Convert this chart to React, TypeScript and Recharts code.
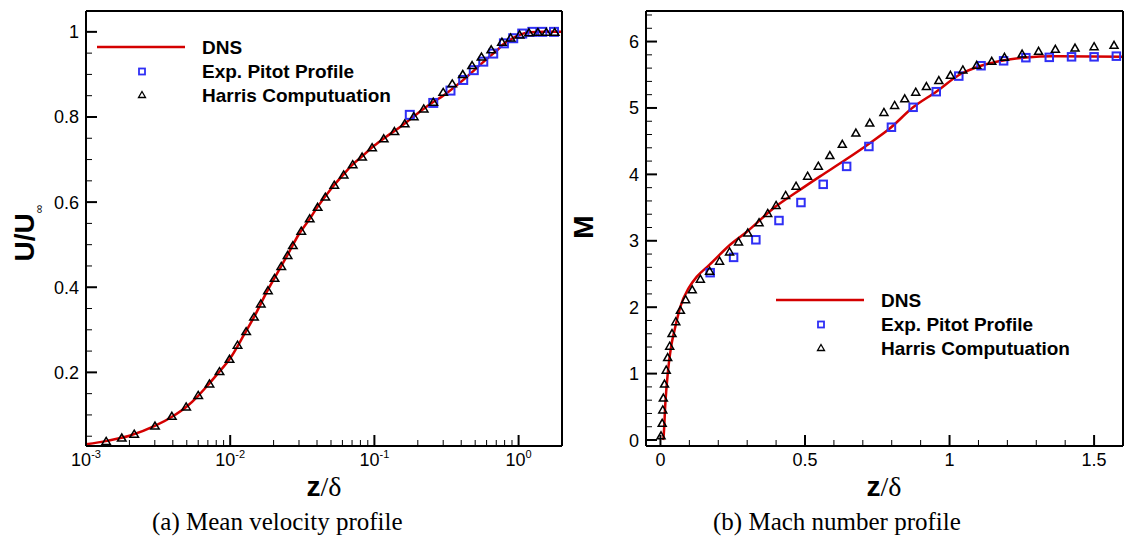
import React from "react";
import { ComposedChart, Line, Scatter, XAxis, YAxis, Legend } from "recharts";

// (a) mean velocity profile, z/delta on a log axis
const velDnsZ = [0.001, 0.0014, 0.002, 0.003, 0.004, 0.005, 0.006, 0.007, 0.008, 0.01, 0.0125, 0.015, 0.0175, 0.02, 0.025, 0.03, 0.035, 0.04, 0.05, 0.06, 0.07, 0.08, 0.1, 0.12, 0.15, 0.2, 0.25, 0.3, 0.4, 0.5, 0.6, 0.7, 0.8, 0.9, 1.0, 1.2, 1.5, 2.0];
const velDnsU = [0.031, 0.039, 0.051, 0.074, 0.097, 0.12, 0.145, 0.17, 0.193, 0.233, 0.289, 0.337, 0.382, 0.418, 0.476, 0.525, 0.557, 0.587, 0.631, 0.662, 0.687, 0.704, 0.733, 0.753, 0.776, 0.809, 0.833, 0.85, 0.883, 0.912, 0.936, 0.955, 0.973, 0.984, 0.992, 0.999, 1.0, 1.0];

const velPitotZ = [0.176, 0.256, 0.337, 0.413, 0.489, 0.569, 0.667, 0.791, 0.918, 1.06, 1.245, 1.46, 1.76];
const velPitotU = [0.805, 0.833, 0.862, 0.887, 0.91, 0.93, 0.949, 0.973, 0.985, 0.996, 1.0, 1.0, 1.0];

const velHarrisZ = [0.00138, 0.00177, 0.00216, 0.00301, 0.00394, 0.00495, 0.006, 0.00718, 0.00843, 0.00989, 0.01124, 0.0129, 0.01462, 0.0163, 0.01827, 0.0203, 0.0226, 0.025, 0.0272, 0.0311, 0.0356, 0.0404, 0.0457, 0.0527, 0.0612, 0.0707, 0.0822, 0.0964, 0.1161, 0.1377, 0.1623, 0.1875, 0.2198, 0.256, 0.3, 0.3467, 0.41, 0.476, 0.553, 0.646, 0.766, 0.88, 1.016, 1.18, 1.36, 1.556, 1.78];
const velHarrisU = [0.039, 0.047, 0.056, 0.075, 0.098, 0.12, 0.147, 0.174, 0.203, 0.232, 0.265, 0.297, 0.331, 0.362, 0.393, 0.422, 0.45, 0.476, 0.499, 0.533, 0.562, 0.589, 0.613, 0.641, 0.665, 0.689, 0.707, 0.729, 0.75, 0.767, 0.785, 0.802, 0.82, 0.836, 0.859, 0.879, 0.901, 0.922, 0.942, 0.959, 0.977, 0.987, 0.994, 0.999, 1.0, 1.0, 1.0];

// (b) Mach number profile
const machDnsZ = [0.009, 0.011, 0.017, 0.0265, 0.037, 0.049, 0.069, 0.098, 0.126, 0.17, 0.241, 0.3, 0.391, 0.47, 0.552, 0.64, 0.724, 0.793, 0.874, 0.954, 1.034, 1.109, 1.19, 1.264, 1.356, 1.6];
const machDnsM = [0.0, 0.06, 0.56, 1.06, 1.41, 1.66, 2.01, 2.29, 2.46, 2.64, 2.94, 3.14, 3.49, 3.73, 3.97, 4.22, 4.47, 4.69, 5.01, 5.245, 5.5, 5.636, 5.72, 5.76, 5.78, 5.77];

const machPitotZ = [0.172, 0.253, 0.33, 0.41, 0.486, 0.563, 0.644, 0.721, 0.799, 0.874, 0.954, 1.032, 1.109, 1.187, 1.264, 1.345, 1.422, 1.5, 1.577];
const machPitotM = [2.52, 2.75, 3.015, 3.305, 3.576, 3.85, 4.12, 4.42, 4.71, 5.01, 5.245, 5.48, 5.636, 5.71, 5.757, 5.762, 5.77, 5.77, 5.78];

const machHarrisZ = [0.002, 0.006, 0.008, 0.01, 0.014, 0.02, 0.025, 0.032, 0.04, 0.053, 0.069, 0.087, 0.11, 0.138, 0.17, 0.2045, 0.239, 0.27, 0.302, 0.341, 0.371, 0.4, 0.433, 0.469, 0.509, 0.546, 0.586, 0.629, 0.676, 0.724, 0.773, 0.81, 0.845, 0.883, 0.92, 0.963, 1.003, 1.046, 1.094, 1.146, 1.19, 1.251, 1.308, 1.366, 1.434, 1.5, 1.569];
const machHarrisM = [0.07, 0.26, 0.46, 0.64, 0.85, 1.06, 1.25, 1.42, 1.61, 1.79, 1.96, 2.12, 2.27, 2.43, 2.55, 2.7, 2.84, 2.99, 3.125, 3.28, 3.42, 3.54, 3.69, 3.83, 3.98, 4.13, 4.29, 4.46, 4.63, 4.78, 4.94, 5.045, 5.146, 5.245, 5.33, 5.42, 5.5, 5.58, 5.65, 5.71, 5.77, 5.82, 5.86, 5.89, 5.91, 5.93, 5.95];

// ticks
const velXMajor = [0.001, 0.01, 0.1, 1];
const velXExp = ["-3", "-2", "-1", "0"];
const velXMinor = [0.002, 0.003, 0.004, 0.005, 0.006, 0.007, 0.008, 0.009, 0.02, 0.03, 0.04, 0.05, 0.06, 0.07, 0.08, 0.09, 0.2, 0.3, 0.4, 0.5, 0.6, 0.7, 0.8, 0.9];
const velYMajor = [0.2, 0.4, 0.6, 0.8, 1];
const velYLabels = ["0.2", "0.4", "0.6", "0.8", "1"];
const velYMinor = [0.05, 0.1, 0.15, 0.25, 0.3, 0.35, 0.45, 0.5, 0.55, 0.65, 0.7, 0.75, 0.85, 0.9, 0.95];

const machXMajor = [0, 0.5, 1, 1.5];
const machXLabels = ["0", "0.5", "1", "1.5"];
const machXMinor = [0.1, 0.2, 0.3, 0.4, 0.6, 0.7, 0.8, 0.9, 1.1, 1.2, 1.3, 1.4];
const machYMajor = [0, 1, 2, 3, 4, 5, 6];
const machYLabels = ["0", "1", "2", "3", "4", "5", "6"];
const machYMinor = [0.2, 0.4, 0.6, 0.8, 1.2, 1.4, 1.6, 1.8, 2.2, 2.4, 2.6, 2.8, 3.2, 3.4, 3.6, 3.8, 4.2, 4.4, 4.6, 4.8, 5.2, 5.4, 5.6, 5.8, 6.2, 6.4];

const SANS = "'Liberation Sans', Arial, Helvetica, sans-serif";
const SERIF = "'Liberation Serif', 'Times New Roman', serif";
const RED = "#d40000";
const BLUE = "#2f2ff5";

const pts = (xs: number[], ys: number[]) => xs.map((x, i) => ({ x, y: ys[i] }));

const findMajor = (majors: number[], v: number) => majors.findIndex((m) => Math.abs(m - v) < 1e-9);

// inward ticks, labels outside
function bottomTick(majors: number[], labels: string[], power: boolean) {
  return (props: any) => {
    const { x, y, payload } = props;
    const i = findMajor(majors, payload.value);
    const major = i >= 0;
    return (
      <g>
        <line x1={x} x2={x} y1={y} y2={y - (major ? 11 : 6)} stroke="#000" strokeWidth={major ? 2 : 1} />
        {major && (
          <text x={x} y={y + 20} textAnchor="middle" fontFamily={SANS} fontSize={18} fill="#000">
            {power ? (
              <>
                10<tspan dy={-8} fontSize={11}>{labels[i]}</tspan>
              </>
            ) : (
              labels[i]
            )}
          </text>
        )}
      </g>
    );
  };
}

function leftTick(majors: number[], labels: string[]) {
  return (props: any) => {
    const { x, y, payload } = props;
    const i = findMajor(majors, payload.value);
    const major = i >= 0;
    return (
      <g>
        <line x1={x} x2={x + (major ? 11 : 6)} y1={y} y2={y} stroke="#000" strokeWidth={major ? 2 : 1} />
        {major && (
          <text x={x - 7} y={y} dy="0.36em" textAnchor="end" fontFamily={SANS} fontSize={18} fill="#000">
            {labels[i]}
          </text>
        )}
      </g>
    );
  };
}

const square = (size: number) => (props: any) => (
  <rect x={props.cx - size / 2} y={props.cy - size / 2} width={size} height={size} fill="none" stroke={BLUE} strokeWidth={2} />
);

const triangle = (w: number, h: number) => (props: any) => {
  const { cx, cy } = props;
  return (
    <path d={`M${cx},${cy - h / 2} L${cx + w / 2},${cy + h / 2} L${cx - w / 2},${cy + h / 2} Z`} fill="none" stroke="#000" strokeWidth={1.5} />
  );
};

function LegendBox() {
  const rows = [12, 36.5, 60];
  return (
    <svg width={320} height={74} style={{ display: "block" }}>
      <line x1={0} x2={88} y1={rows[0]} y2={rows[0]} stroke={RED} strokeWidth={2.5} />
      <rect x={42} y={rows[1] - 3} width={6} height={6} fill="none" stroke={BLUE} strokeWidth={1.8} />
      <path d={`M45,${rows[2] - 3.5} L48.5,${rows[2] + 2.5} L41.5,${rows[2] + 2.5} Z`} fill="none" stroke="#000" strokeWidth={1.3} />
      {["DNS", "Exp. Pitot Profile", "Harris Computuation"].map((t, i) => (
        <text key={t} x={105} y={rows[i]} dy="0.36em" fontFamily={SANS} fontWeight="bold" fontSize={19} fill="#000">
          {t}
        </text>
      ))}
    </svg>
  );
}

const frame = { stroke: "#000", strokeWidth: 2 };

export default function App() {
  const velDns = pts(velDnsZ, velDnsU);
  const velPitot = pts(velPitotZ, velPitotU);
  const velHarris = pts(velHarrisZ, velHarrisU);
  const machDns = pts(machDnsZ, machDnsM);
  const machPitot = pts(machPitotZ, machPitotM);
  const machHarris = pts(machHarrisZ, machHarrisM);

  return (
    <div style={{ position: "absolute", left: 0, top: 0, width: 1126, height: 538, background: "#fff" }}>
      <div style={{ position: "absolute", left: 0, top: 0 }}>
        <ComposedChart width={570} height={538} margin={{ top: 10, right: 7, bottom: 91, left: 85 }}>
          <XAxis
            dataKey="x"
            type="number"
            scale="log"
            domain={[0.001, 2]}
            allowDataOverflow
            ticks={[...velXMajor, ...velXMinor]}
            interval={0}
            height={1}
            tickSize={0}
            tickMargin={0}
            tickLine={false}
            axisLine={frame}
            tick={bottomTick(velXMajor, velXExp, true)}
          />
          <YAxis
            dataKey="y"
            type="number"
            domain={[0.027, 1.049]}
            allowDataOverflow
            ticks={[...velYMajor, ...velYMinor]}
            interval={0}
            width={1}
            tickSize={0}
            tickMargin={0}
            tickLine={false}
            axisLine={frame}
            tick={leftTick(velYMajor, velYLabels)}
          />
          <XAxis xAxisId="top" orientation="top" type="number" domain={[0, 1]} height={1} tick={false} tickLine={false} axisLine={frame} />
          <YAxis yAxisId="right" orientation="right" type="number" domain={[0, 1]} width={1} tick={false} tickLine={false} axisLine={frame} />
          <Line data={velDns} dataKey="y" type="monotone" stroke={RED} strokeWidth={2.5} dot={false} activeDot={false} isAnimationActive={false} />
          <Scatter data={velPitot} dataKey="y" shape={square(8)} isAnimationActive={false} />
          <Scatter data={velHarris} dataKey="y" shape={triangle(8.5, 7)} isAnimationActive={false} />
          <Legend layout="vertical" align="center" verticalAlign="middle" wrapperStyle={{ left: 97, top: 35, width: 320 }} content={() => <LegendBox />} />
        </ComposedChart>
      </div>

      <div style={{ position: "absolute", left: 570, top: 0 }}>
        <ComposedChart width={556} height={538} margin={{ top: 10, right: 2, bottom: 91, left: 75 }}>
          <XAxis
            dataKey="x"
            type="number"
            domain={[-0.05, 1.6]}
            allowDataOverflow
            ticks={[...machXMajor, ...machXMinor]}
            interval={0}
            height={1}
            tickSize={0}
            tickMargin={0}
            tickLine={false}
            axisLine={frame}
            tick={bottomTick(machXMajor, machXLabels, false)}
          />
          <YAxis
            dataKey="y"
            type="number"
            domain={[-0.09, 6.46]}
            allowDataOverflow
            ticks={[...machYMajor, ...machYMinor]}
            interval={0}
            width={1}
            tickSize={0}
            tickMargin={0}
            tickLine={false}
            axisLine={frame}
            tick={leftTick(machYMajor, machYLabels)}
          />
          <XAxis xAxisId="top" orientation="top" type="number" domain={[0, 1]} height={1} tick={false} tickLine={false} axisLine={frame} />
          <YAxis yAxisId="right" orientation="right" type="number" domain={[0, 1]} width={1} tick={false} tickLine={false} axisLine={frame} />
          <Line data={machDns} dataKey="y" type="monotone" stroke={RED} strokeWidth={2.5} dot={false} activeDot={false} isAnimationActive={false} />
          <Scatter data={machPitot} dataKey="y" shape={square(7.5)} isAnimationActive={false} />
          <Scatter data={machHarris} dataKey="y" shape={triangle(8, 7)} isAnimationActive={false} />
          <Legend layout="vertical" align="center" verticalAlign="middle" wrapperStyle={{ left: 206, top: 288, width: 320 }} content={() => <LegendBox />} />
        </ComposedChart>
      </div>

      <svg width={1126} height={538} style={{ position: "absolute", left: 0, top: 0, pointerEvents: "none" }}>
        <text transform="translate(34,233) rotate(-90)" textAnchor="middle" fontFamily={SANS} fontWeight="bold" fontSize={28} fill="#000">
          U/U<tspan dy={9} fontSize={12} fontWeight="normal">∞</tspan>
        </text>
        <text transform="translate(593,227) rotate(-90)" textAnchor="middle" fontFamily={SANS} fontWeight="bold" fontSize={28} fill="#000">
          M
        </text>
        <text x={324} y={496} textAnchor="middle" fontSize={28} fill="#000">
          <tspan fontFamily={SANS} fontWeight="bold">z</tspan>
          <tspan fontFamily={SERIF}>/δ</tspan>
        </text>
        <text x={884} y={496} textAnchor="middle" fontSize={28} fill="#000">
          <tspan fontFamily={SANS} fontWeight="bold">z</tspan>
          <tspan fontFamily={SERIF}>/δ</tspan>
        </text>
        <text x={152} y={530} fontFamily={SERIF} fontSize={25} fill="#000">
          (a) Mean velocity profile
        </text>
        <text x={713} y={530} fontFamily={SERIF} fontSize={25} fill="#000">
          (b) Mach number profile
        </text>
      </svg>
    </div>
  );
}
